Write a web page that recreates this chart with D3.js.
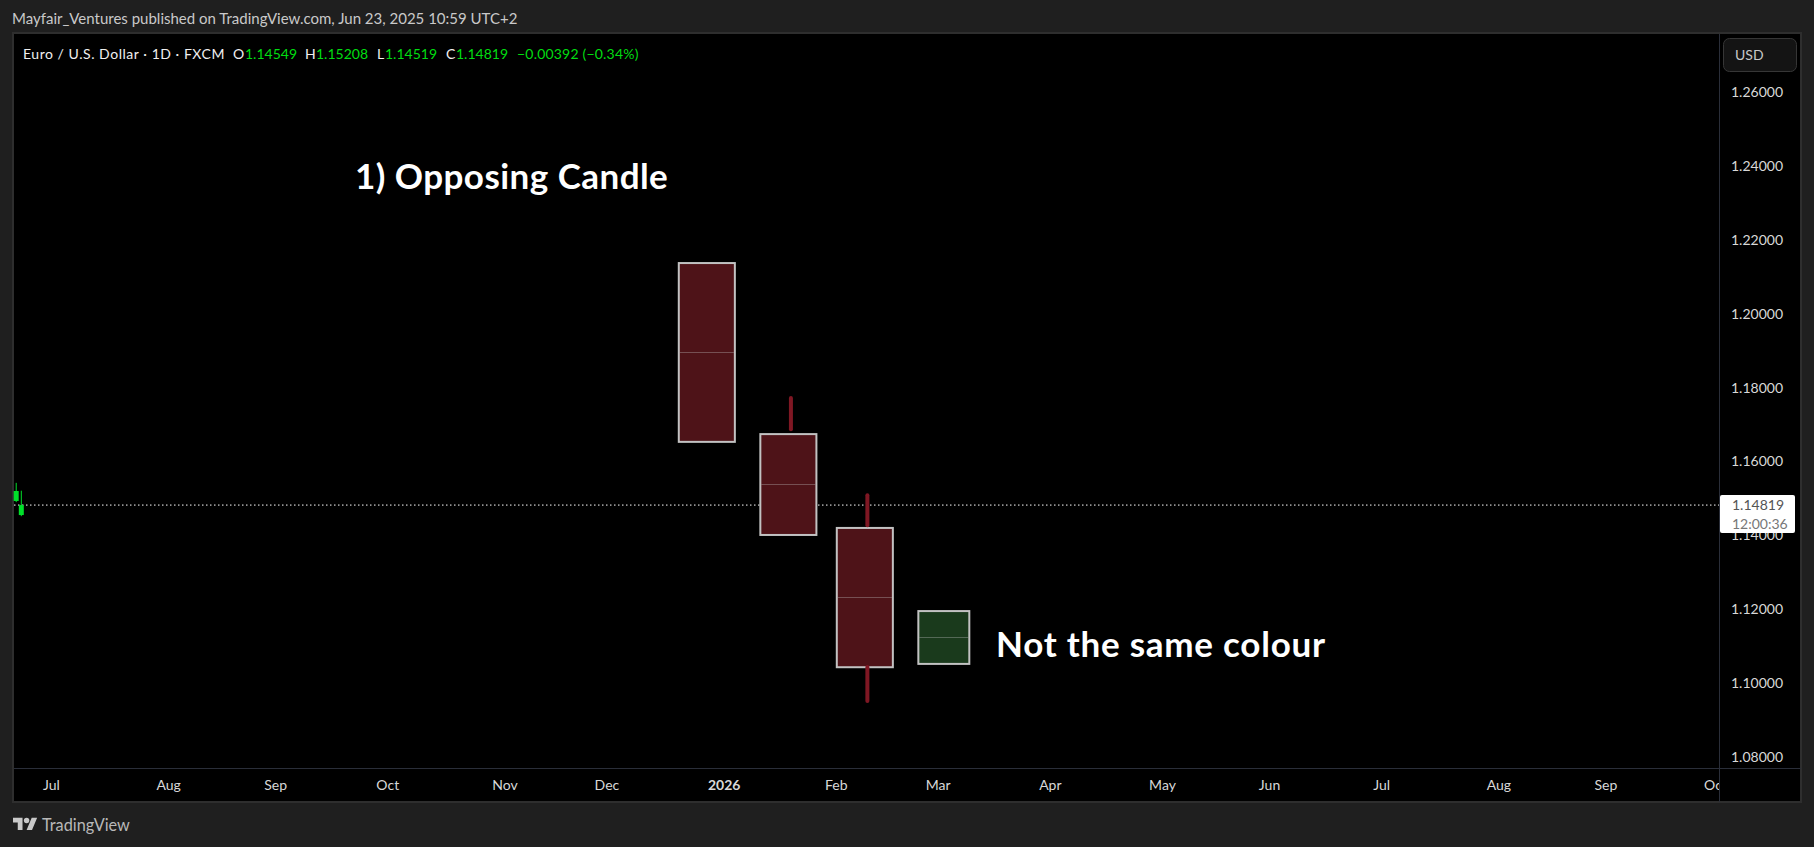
<!DOCTYPE html>
<html>
<head>
<meta charset="utf-8">
<script src="https://cdn.jsdelivr.net/npm/d3@7"></script>
<style>
  html, body { margin: 0; padding: 0; background: #1f1f1f; overflow: hidden; }
  text { font-family: Lato, "Noto Sans", sans-serif; }
</style>
</head>
<body>
<div id="main-container"></div>
<script>
// DATA
const priceTicks = [1.08, 1.10, 1.12, 1.14, 1.16, 1.18, 1.20, 1.22, 1.24, 1.26];

const monthLabels = ["Jul","Aug","Sep","Oct","Nov","Dec","2026","Feb","Mar","Apr","May","Jun","Jul","Aug","Sep","Oct"];
const monthBars = [6, 29, 50, 72, 95, 115, 138, 160, 180, 202, 224, 245, 267, 290, 311, 332.5];

// the two real candles at the left edge
const candleBars = [-1, 0];
const candleOpen = [1.1493, 1.14549];
const candleHigh = [1.1542, 1.15208];
const candleLow = [1.1490, 1.14519];
const candleClose = [1.1520, 1.14819];

// drawn boxes
const boxStart = [129, 145, 160, 176];
const boxEnd = [140, 156, 171, 186];
const boxTop = [1.2137, 1.1674, 1.1420, 1.1195];
const boxBottom = [1.1653, 1.1401, 1.1043, 1.1052];
const boxMid = [1.1895, 1.1539, 1.1233, 1.1125];
const boxKind = ["down", "down", "down", "up"];

// drawn wicks
const wickBar = [151, 166, 166];
const wickHigh = [1.1777, 1.1514, 1.1049];
const wickLow = [1.1682, 1.1422, 1.0946];

const lastPrice = 1.14819;
const countdown = "12:00:36";

// CONSTANTS
const width = 1814, height = 847;
const plot = {left: 14, top: 34, right: 1719, bottom: 768};
const frame = {right: 1801, bottom: 802};
const boxFill = {down: "#4e1318", up: "#1a3a1c"};
const green = "#00dd11";

const x = d3.scaleLinear().domain([0, 332.5]).range([21.3, 1716]);
const y = d3.scaleLinear().domain([1.08, 1.26]).range([757, 92]);

// DRAWING SETUP
const svg = d3.select("#main-container")
    .append("svg")
        .attr("width", width)
        .attr("height", height)
        .style("display", "block");

svg.append("rect")
    .attr("width", width)
    .attr("height", height)
    .attr("fill", "#1f1f1f");

svg.append("rect")
    .attr("x", plot.left - 1)
    .attr("y", plot.top - 1)
    .attr("width", frame.right - plot.left + 1)
    .attr("height", frame.bottom - plot.top + 1)
    .attr("fill", "#000")
    .attr("stroke", "#2e2e2e")
    .attr("stroke-width", 2);

svg.append("defs").append("clipPath")
    .attr("id", "plot-clip")
    .append("rect")
        .attr("x", plot.left)
        .attr("y", plot.top)
        .attr("width", plot.right - plot.left)
        .attr("height", frame.bottom - plot.top);

// HEADER
svg.append("text")
    .attr("x", 12)
    .attr("y", 24)
    .attr("fill", "#c9c9c9")
    .attr("font-size", 15)
    .text("Mayfair_Ventures published on TradingView.com, Jun 23, 2025 10:59 UTC+2");

// LEGEND
const legend = svg.append("text")
    .attr("y", 59)
    .attr("font-size", 14);
const legendParts = [
    [23, "Euro / U.S. Dollar · 1D · FXCM", "#f0f0f0"],
    [233, "O", "#f0f0f0"], [245, "1.14549", green],
    [305, "H", "#f0f0f0"], [316, "1.15208", green],
    [377, "L", "#f0f0f0"], [385, "1.14519", green],
    [446, "C", "#f0f0f0"], [456, "1.14819", green],
    [517, "−0.00392 (−0.34%)", green]
];
legend.selectAll("tspan")
    .data(legendParts)
    .enter()
    .append("tspan")
        .attr("x", (d) => d[0])
        .attr("fill", (d) => d[2])
        .style("letter-spacing", (d, i) => i === 0 ? "0.54px" : i === 9 ? "0.2px" : "0")
        .text((d) => d[1]);

// AXIS LINES
svg.append("line")
    .attr("x1", plot.right + 0.5).attr("x2", plot.right + 0.5)
    .attr("y1", plot.top).attr("y2", frame.bottom)
    .attr("stroke", "#2a2e39");
svg.append("line")
    .attr("x1", plot.left).attr("x2", frame.right)
    .attr("y1", plot.bottom + 0.5).attr("y2", plot.bottom + 0.5)
    .attr("stroke", "#2a2e39");

// PRICE AXIS
const yAxis = svg.append("g")
    .attr("id", "y-axis")
    .attr("transform", `translate(${plot.right + 12}, 0)`)
    .call(d3.axisRight(y).tickValues(priceTicks).tickSize(0).tickPadding(0).tickFormat(d3.format(".5f")));
yAxis.select(".domain").remove();
yAxis.selectAll("text")
    .attr("fill", "#d8d8d8")
    .attr("font-size", 14)
    .style("font-family", "Lato, sans-serif");

// TIME AXIS
const xAxis = svg.append("g")
    .attr("id", "x-axis")
    .attr("clip-path", "url(#plot-clip)")
    .append("g")
    .attr("transform", `translate(-1, ${plot.bottom + 12})`)
    .call(d3.axisBottom(x).tickValues(monthBars).tickSize(0).tickPadding(0).tickFormat((d, i) => monthLabels[i]));
xAxis.select(".domain").remove();
xAxis.selectAll("text")
    .attr("fill", "#d8d8d8")
    .attr("font-size", 14)
    .attr("font-weight", (d, i) => monthLabels[i] === "2026" ? 700 : 400)
    .style("font-family", "Lato, sans-serif");

// LAST PRICE LINE
svg.append("line")
    .attr("x1", plot.left).attr("x2", plot.right)
    .attr("y1", y(lastPrice)).attr("y2", y(lastPrice))
    .attr("stroke", "#ffffff")
    .attr("stroke-width", 1)
    .attr("stroke-dasharray", "1.5 2.5");

// CANDLES
const candleW = 5;
const candles = svg.append("g").attr("id", "candles").selectAll("g")
    .data(candleBars)
    .enter()
    .append("g");
candles.append("line")
    .attr("x1", (d) => x(d)).attr("x2", (d) => x(d))
    .attr("y1", (d, i) => y(candleHigh[i]))
    .attr("y2", (d, i) => y(candleLow[i]))
    .attr("stroke", "#00e02a")
    .attr("stroke-width", 1);
candles.append("rect")
    .attr("x", (d) => x(d) - candleW / 2)
    .attr("width", candleW)
    .attr("y", (d, i) => y(Math.max(candleOpen[i], candleClose[i])))
    .attr("height", (d, i) => Math.abs(y(candleOpen[i]) - y(candleClose[i])))
    .attr("fill", "#00e02a");

// DRAWN BOXES
const boxes = svg.append("g").attr("id", "boxes").selectAll("g")
    .data(boxStart)
    .enter()
    .append("g");
boxes.append("rect")
    .attr("x", (d) => x(d))
    .attr("y", (d, i) => y(boxTop[i]))
    .attr("width", (d, i) => x(boxEnd[i]) - x(d))
    .attr("height", (d, i) => y(boxBottom[i]) - y(boxTop[i]))
    .attr("fill", (d, i) => boxFill[boxKind[i]])
    .attr("stroke", "#c2c2c2")
    .attr("stroke-width", 2);
boxes.append("line")
    .attr("x1", (d) => x(d) + 1)
    .attr("x2", (d, i) => x(boxEnd[i]) - 1)
    .attr("y1", (d, i) => Math.round(y(boxMid[i])) + 0.5)
    .attr("y2", (d, i) => Math.round(y(boxMid[i])) + 0.5)
    .attr("stroke", "#c2c2c2")
    .attr("stroke-opacity", 0.35);

// DRAWN WICKS
svg.append("g").attr("id", "wicks").selectAll("rect")
    .data(wickBar)
    .enter()
    .append("rect")
        .attr("x", (d) => x(d) - 2)
        .attr("width", 4)
        .attr("y", (d, i) => y(wickHigh[i]))
        .attr("height", (d, i) => y(wickLow[i]) - y(wickHigh[i]))
        .attr("rx", 2)
        .attr("fill", "#7f1723");

// ANNOTATIONS
svg.append("text")
    .attr("x", 355).attr("y", 189)
    .attr("fill", "#fff")
    .attr("font-size", 35)
    .attr("font-weight", 700)
    .style("letter-spacing", "0.45px")
    .text("1) Opposing Candle");
svg.append("text")
    .attr("x", 996).attr("y", 657)
    .attr("fill", "#fff")
    .attr("font-size", 35)
    .attr("font-weight", 700)
    .style("letter-spacing", "0.75px")
    .text("Not the same colour");

// USD BUTTON
svg.append("rect")
    .attr("x", 1723.5).attr("y", 38.5)
    .attr("width", 73).attr("height", 33)
    .attr("rx", 6)
    .attr("fill", "#141414")
    .attr("stroke", "#363636");
svg.append("text")
    .attr("x", 1735).attr("y", 60)
    .attr("fill", "#c9c9c9")
    .attr("font-size", 14)
    .text("USD");

// LAST PRICE LABEL
svg.append("rect")
    .attr("x", plot.right + 1).attr("y", y(lastPrice) - 10)
    .attr("width", 75).attr("height", 38)
    .attr("rx", 2)
    .attr("fill", "#fff");
svg.append("text")
    .attr("x", plot.right + 13).attr("y", y(lastPrice) + 5)
    .attr("fill", "#555")
    .attr("font-size", 14)
    .text(d3.format(".5f")(lastPrice));
svg.append("text")
    .attr("x", plot.right + 13).attr("y", y(lastPrice) + 24)
    .attr("fill", "#777")
    .attr("font-size", 14)
    .text(countdown);

// LOGO
const logo = svg.append("g")
    .attr("transform", "translate(13, 815) scale(0.68)")
    .attr("fill", "#c9c9c9");
logo.append("path").attr("d", "M14 22H7V11H0V4h14v18zM28 22h-8l7.5-18h8L28 22z");
logo.append("circle").attr("cx", 20).attr("cy", 8).attr("r", 4);
svg.append("text")
    .attr("x", 42).attr("y", 831)
    .attr("fill", "#b8b8b8")
    .attr("font-size", 16.3)
    .text("TradingView");
</script>
</body>
</html>
